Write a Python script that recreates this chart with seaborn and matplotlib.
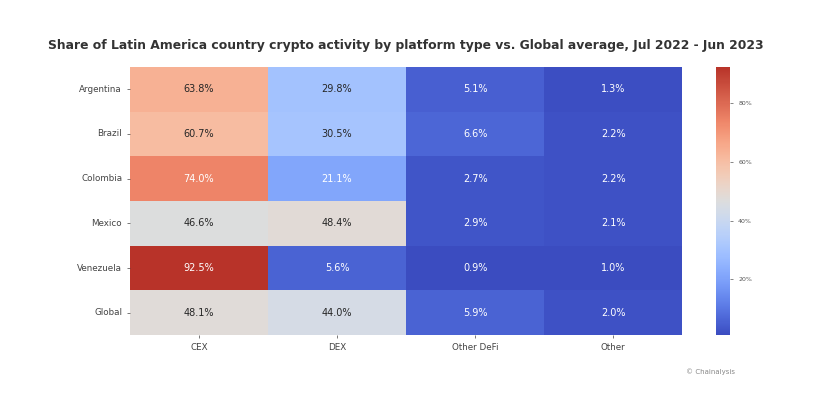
import numpy as np
import pandas as pd
import matplotlib
matplotlib.use("Agg")
import matplotlib.pyplot as plt
from matplotlib.colors import ListedColormap
import seaborn as sns

# values (percent)
countries = ["Argentina", "Brazil", "Colombia", "Mexico", "Venezuela", "Global"]
platforms = ["CEX", "DEX", "Other DeFi", "Other"]
cex = [63.8, 60.7, 74.0, 46.6, 92.5, 48.1]
dex = [29.8, 30.5, 21.1, 48.4, 5.6, 44.0]
other_defi = [5.1, 6.6, 2.7, 2.9, 0.9, 5.9]
other = [1.3, 2.2, 2.2, 2.1, 1.0, 2.0]

df = pd.DataFrame({"CEX": cex, "DEX": dex, "Other DeFi": other_defi, "Other": other},
                  index=countries)[platforms]
labels = df.map(lambda v: f"{v:.1f}%")

# coolwarm with a slightly softer red end, as in the reference
base = plt.get_cmap("coolwarm")
t = np.linspace(0, 1, 256)
cols = base(t)
start = 0.8
c0 = np.array(base(start))
c1 = np.array([0.72, 0.20, 0.16, 1.0])
hi = t > start
w = ((t[hi] - start) / (1 - start))[:, None]
cols[hi] = c0 * (1 - w) + c1 * w
cmap = ListedColormap(cols)

fig = plt.figure(figsize=(8.32, 3.98), dpi=100)
ax = fig.add_axes([0.156, 0.158, 0.664, 0.674])
cax = fig.add_axes([0.861, 0.158, 0.017, 0.674])

sns.heatmap(df, ax=ax, cbar_ax=cax, cmap=cmap, annot=labels, fmt="",
            annot_kws={"fontsize": 7})

ax.tick_params(axis="both", labelsize=6.3, length=2, width=0.5, colors="#444444")
ax.tick_params(axis="y", rotation=0)
ax.set_xlabel("")
ax.set_ylabel("")

cax.set_yticks([20, 40, 60, 80])
cax.set_yticklabels(["20%", "40%", "60%", "80%"])
cax.tick_params(labelsize=4.5, length=2, width=0.5, colors="#555555")
for s in cax.spines.values():
    s.set_visible(False)

fig.text(0.488, 0.885, "Share of Latin America country crypto activity by platform type vs. Global average, Jul 2022 - Jun 2023",
         ha="center", va="center", fontsize=8.9, fontweight="bold", color="#333333")
fig.text(0.825, 0.065, "© Chainalysis", ha="left", va="center", fontsize=5, color="#888888")

fig.savefig("out.png", dpi=100)
